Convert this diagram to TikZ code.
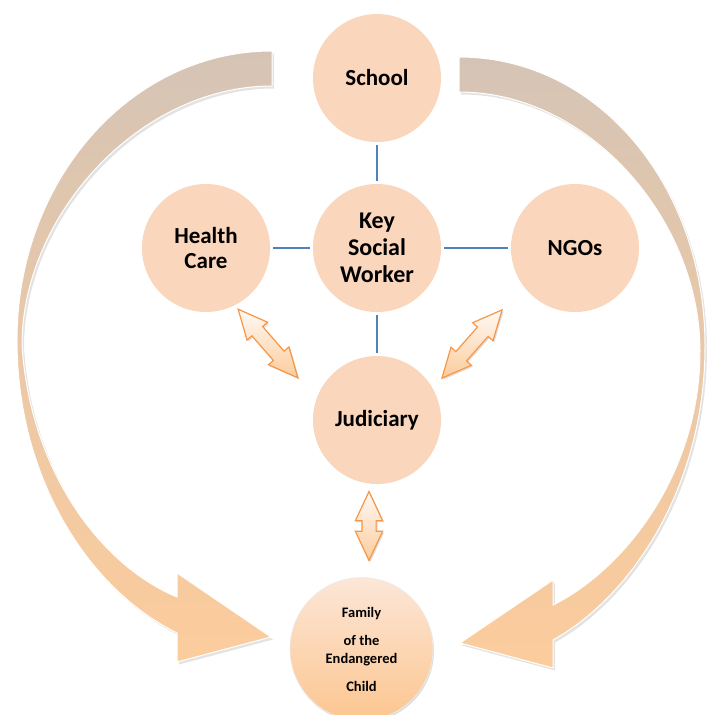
\documentclass[tikz,border=0pt]{standalone}
\usepackage{fontspec}
\setmainfont{Carlito}
\usetikzlibrary{shapes.arrows,shadows}
\definecolor{agencyfill}{RGB}{250,214,188}
\definecolor{bandtop}{RGB}{213,196,181}
\definecolor{bandbot}{RGB}{252,204,156}
\definecolor{linkblue}{RGB}{79,129,189}
\definecolor{arrowline}{RGB}{247,150,70}
\tikzset{>=stealth}
\tikzset{
  agency/.style={circle, fill=agencyfill, minimum size=128pt, inner sep=0pt, align=center,
    font=\fontsize{23}{25}\selectfont\bfseries},
  family/.style={circle, top color=white!40!agencyfill, bottom color=bandbot!92!orange,
    draw=white!85!gray, line width=0.6pt, minimum size=143pt, inner sep=0pt, align=center,
    font=\fontsize{14.5}{18}\selectfont\bfseries,
    drop shadow={opacity=.25, shadow xshift=1pt, shadow yshift=-2pt}},
  link/.style={draw=linkblue, line width=2pt, shorten <=3pt, shorten >=3pt},
  dblarrow/.style={double arrow, draw=arrowline, line width=1.2pt, inner sep=0pt, inner ysep=6.5pt,
    double arrow head extend=6.5pt, double arrow tip angle=50,
    top color=white!85!agencyfill, bottom color=bandbot,
    drop shadow={opacity=.25, shadow xshift=1.5pt, shadow yshift=-1.5pt}},
  band/.style={draw=white, line width=1pt, top color=bandtop, bottom color=bandbot,
    middle color=bandtop!45!bandbot,
    drop shadow={opacity=.22, shadow xshift=2pt, shadow yshift=-2.5pt}}
}

\begin{document}
\begin{tikzpicture}[x=1pt, y=-1pt]
    \useasboundingbox (0,0) rectangle (707,715);
    % curved arrows round the circle
    \path[band] (272,51) .. controls (131,51) and (17,180) .. (17,340)
        .. controls (17,480) and (90,590) .. (177,633) -- (177,662) -- (271,637)
        -- (177,573) -- (177,597) .. controls (100,565) and (30,470) .. (22,345)
        .. controls (22,215) and (140,86) .. (272,86) -- cycle;
    \path[band] (459,57) .. controls (598,57) and (705,186) .. (705,346)
        .. controls (705,486) and (632,596) .. (553,640) -- (553,668) -- (460,643)
        -- (553,580) -- (553,605) .. controls (622,571) and (700,476) .. (700,351)
        .. controls (700,221) and (590,92) .. (459,92) -- cycle;

    \node[agency] (school) at (377,78) {School};
    \node[agency, font=\fontsize{24}{27}\selectfont\bfseries] (ksw) at (377,248) {Key\\Social\\Worker};
    \node[agency] (health) at (206,248) {Health\\Care};
    \node[agency] (ngo) at (575,248) {NGOs};
    \node[agency] (court) at (377,420) {Judiciary};
    \node[family] (family) at (361.5,649) {Family\\[10pt]of the\\Endangered\\[10pt]Child};

    \draw[link] (school) -- (ksw);
    \draw[link] (health) -- (ksw);
    \draw[link] (ksw) -- (ngo);
    \draw[link] (ksw) -- (court);

    \node[dblarrow, minimum height=91pt, rotate=-49] (hcarrow) at (268,343.5) {};
    \node[dblarrow, minimum height=91pt, rotate=48.6] (ngoarrow) at (472,344) {};
    \node[dblarrow, minimum height=69pt, rotate=90] (famarrow) at (369,526) {};
\end{tikzpicture}
\end{document}
